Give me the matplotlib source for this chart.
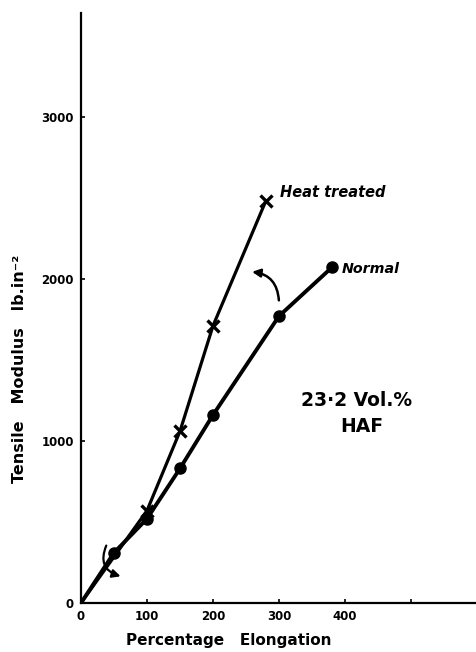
import matplotlib
matplotlib.use("Agg")
import matplotlib.pyplot as plt

# Data
normal_x = [0, 50, 100, 150, 200, 300, 380]
normal_y = [0, 310, 520, 830, 1160, 1770, 2070]
heat_x = [0, 100, 150, 200, 280]
heat_y = [0, 570, 1060, 1710, 2480]

x_ticks = [0, 100, 200, 300, 400, 500]
x_tick_labels = ["0", "100", "200", "300", "400", ""]
y_ticks = [0, 1000, 2000, 3000]
y_tick_labels = ["0", "1000", "2000", "3000"]

W, H = 477, 652
fig = plt.figure(figsize=(W / 100, H / 100), dpi=100)
fig.patch.set_facecolor("white")
ax = fig.add_axes([81 / W, 49 / H, 396 / W, 590 / H])

ax.plot(normal_x, normal_y, color="black", lw=2.8, marker="o", ms=8,
        markevery=list(range(1, len(normal_x))), solid_capstyle="round")
ax.plot(heat_x, heat_y, color="black", lw=2.3, marker="x", ms=8, mew=2.4,
        markevery=list(range(1, len(heat_x))), solid_capstyle="round")

ax.set_xlim(0, 600)
ax.set_ylim(0, 3640)
for s in ["top", "right"]:
    ax.spines[s].set_visible(False)
for s in ["left", "bottom"]:
    ax.spines[s].set_linewidth(1.6)

ax.set_xticks(x_ticks)
ax.set_xticklabels(x_tick_labels, fontsize=8.5, fontweight="bold")
ax.set_yticks(y_ticks)
ax.set_yticklabels(y_tick_labels, fontsize=8.5, fontweight="bold")
ax.tick_params(direction="in", length=3, width=1.2, pad=5)
ax.tick_params(axis="y", pad=5)

# annotations
ax.text(301, 2530, "Heat treated", fontsize=10.5, fontweight="bold",
        style="italic", ha="left", va="center")
ax.text(395, 2062, "Normal", fontsize=10.3, fontweight="bold",
        style="italic", ha="left", va="center")
ax.text(417, 1247, "23·2 Vol.%", fontsize=13.5, fontweight="bold",
        ha="center", va="center")
ax.text(426, 1086, "HAF", fontsize=13.5, fontweight="bold",
        ha="center", va="center")

ax.annotate("", xy=(64, 160), xytext=(40, 370),
            arrowprops=dict(arrowstyle="-|>", color="black", lw=1.6,
                            mutation_scale=12,
                            connectionstyle="arc3,rad=0.6"))
ax.annotate("", xy=(255, 2045), xytext=(300, 1850),
            arrowprops=dict(arrowstyle="-|>", color="black", lw=1.8,
                            mutation_scale=12,
                            connectionstyle="arc3,rad=0.45"))

fig.text(20 / W, 1 - 369 / H, "Tensile   Modulus   lb.in⁻²", rotation=90,
         fontsize=11.5, fontweight="bold", ha="center", va="center")
fig.text(229 / W, 1 - 641 / H, "Percentage   Elongation",
         fontsize=11, fontweight="bold", ha="center", va="center")

fig.savefig("out.png", dpi=100)
